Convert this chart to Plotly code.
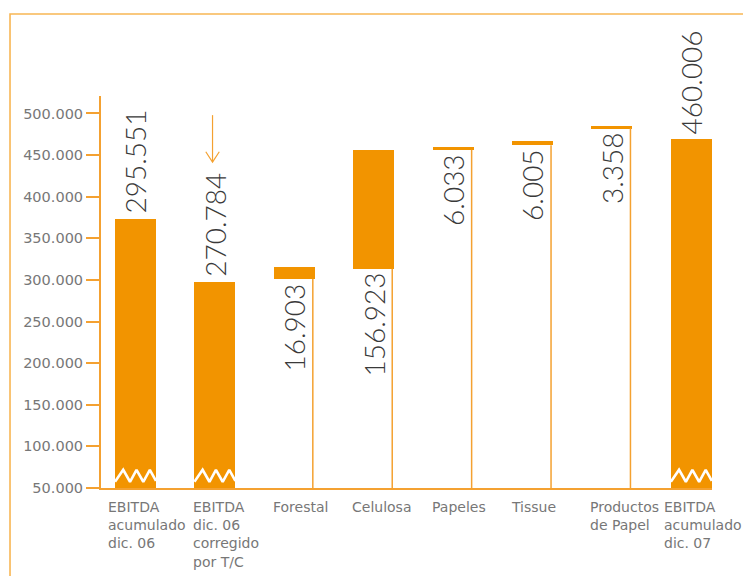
import plotly.graph_objects as go

# ---------------- data ----------------
categories = ["EBITDA<br>acumulado<br>dic. 06",
              "EBITDA<br>dic. 06<br>corregido<br>por T/C",
              "Forestal", "Celulosa", "Papeles", "Tissue",
              "Productos<br>de Papel",
              "EBITDA<br>acumulado<br>dic. 07"]
value_labels = ["295.551", "270.784", "16.903", "156.923",
                "6.033", "6.005", "3.358", "460.006"]
bar_base = [50000, 50000, 301000, 313300, 456400, 461700, 482500, 50000]
bar_top = [373100, 297700, 315700, 456000, 459300, 466900, 484900, 469300]
label_above = [True, True, False, False, False, False, False, True]
broken = [True, True, False, False, False, False, False, True]
y_ticks = [50000, 100000, 150000, 200000, 250000, 300000,
           350000, 400000, 450000, 500000]

# ---------------- style ----------------
BAR = "#F29400"
AXIS = "#F4A131"
FRAME = "#F8B654"
GRAY = "#777777"
TXT = "#3a3a3a"
W = 0.516
YMIN, YMAX = 50000, 521000
label_xshift = [-9, -3, -3, -3, -3, -3, -3, -9]

xs = list(range(len(categories)))
fig = go.Figure()

fig.add_trace(go.Bar(
    x=xs, y=[t - b for t, b in zip(bar_top, bar_base)], base=bar_base,
    width=W, marker=dict(color=BAR, line=dict(width=0)),
    hoverinfo="skip", showlegend=False))

# zigzag "axis break" marks on full bars
zig_fx = [0.0, 0.2, 0.366, 0.525, 0.69, 0.85, 1.0]
zig_fy = [57500, 71900, 57500, 71900, 57500, 71900, 58500]
for i in xs:
    if broken[i]:
        left = i - W / 2
        fig.add_trace(go.Scatter(
            x=[left + f * W for f in zig_fx], y=zig_fy, mode="lines",
            line=dict(color="white", width=2.6), hoverinfo="skip",
            showlegend=False, cliponaxis=False))

shapes = []
# thin connector lines at right edge of floating bars
for i in xs:
    if bar_base[i] > YMIN:
        xr = i + W / 2 - 0.025
        shapes.append(dict(type="line", xref="x", yref="y", x0=xr, x1=xr,
                           y0=YMIN, y1=bar_base[i],
                           line=dict(color=AXIS, width=1.5)))

# arrow above second bar label
ax_x = 1 - 0.03
fig.add_trace(go.Scatter(
    x=[ax_x, ax_x, None, ax_x - 0.085, ax_x, ax_x + 0.085],
    y=[498000, 441600, None, 454000, 441600, 454000],
    mode="lines", line=dict(color=AXIS, width=1.2), hoverinfo="skip",
    showlegend=False, cliponaxis=False))

# outer frame
shapes.append(dict(type="rect", xref="paper", yref="paper",
                   x0=-0.1489, x1=1.2, y0=-0.4, y1=1.209,
                   line=dict(color=FRAME, width=1.6)))
shapes.append(dict(type="rect", xref="paper", yref="paper",
                   x0=-0.1489, x1=1.2, y0=1.236, y1=1.4,
                   line=dict(color=FRAME, width=1.6)))

annotations = []
for i in xs:
    if label_above[i]:
        annotations.append(dict(x=i, y=bar_top[i], xref="x", yref="y",
                                text=value_labels[i], textangle=-90,
                                showarrow=False, yanchor="bottom",
                                yshift=3,
                                font=dict(family="Lato", size=28,
                                          color=TXT, weight=300)))
    else:
        annotations.append(dict(x=i, y=bar_base[i], xref="x", yref="y",
                                text=value_labels[i], textangle=-90,
                                showarrow=False, yanchor="top",
                                yshift=-2,
                                font=dict(family="Lato", size=28,
                                          color=TXT, weight=300)))
    annotations.append(dict(x=i - W / 2, y=YMIN, xref="x", yref="y",
                            text=categories[i], showarrow=False,
                            xanchor="left", yanchor="top", align="left",
                            xshift=label_xshift[i], yshift=-9,
                            font=dict(family="DejaVu Sans", size=14,
                                      color=GRAY)))

fig.update_layout(
    width=743, height=568,
    margin=dict(l=93, r=39, t=88, b=88),
    paper_bgcolor="white", plot_bgcolor="white",
    separators=",.",
    bargap=0, barmode="overlay",
    shapes=shapes, annotations=annotations,
    xaxis=dict(range=[-0.4345, 7.26], showgrid=False, zeroline=False,
               showticklabels=False, ticks="", showline=True,
               linecolor=AXIS, linewidth=2),
    yaxis=dict(range=[YMIN, YMAX], tickvals=y_ticks, tickformat=",d",
               showgrid=False, zeroline=False, showline=True,
               linecolor=AXIS, linewidth=2, ticks="outside", ticklen=13,
               tickwidth=2, tickcolor=AXIS,
               tickfont=dict(family="DejaVu Sans", size=14.5, color=GRAY)),
)

fig.write_html("out.html")
